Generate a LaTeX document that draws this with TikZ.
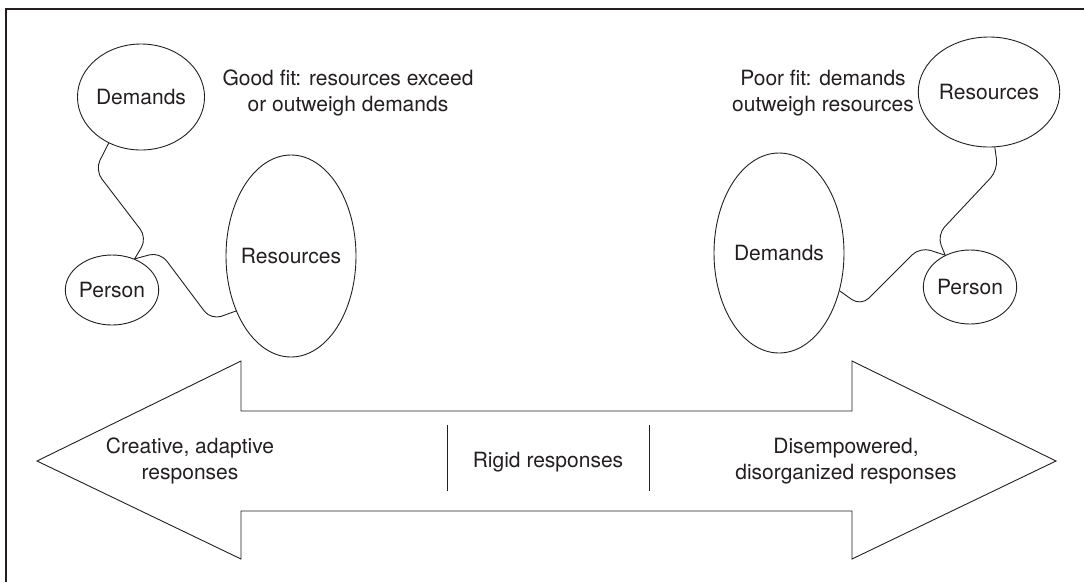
\documentclass[tikz,border=0pt]{standalone}
\usepackage{fontspec}
\setmainfont{TeX Gyre Heros}
\usetikzlibrary{shapes.geometric}
\definecolor{ink}{HTML}{231F20}
\begin{document}
\begin{tikzpicture}[x=1pt,y=-1pt,
  line width=0.9pt, draw=ink,
  every node/.style={text=ink, font=\fontsize{21}{26}\selectfont},
  blob/.style={draw=ink, ellipse, inner sep=0pt, line width=0.9pt},
  link/.style={draw=ink, rounded corners=11pt, line width=0.9pt},
  caption/.style={align=center}]
\useasboundingbox (0,0) rectangle (1084,582);
% frame (top and left edges)
\draw[line width=1.3pt] (1084,9) -- (6,9) -- (6,582);

% left group: good fit
\node[blob, minimum width=114pt, minimum height=106pt] (dL) at (141,97) {Demands};
\node[blob, minimum width=86pt, minimum height=70pt] (pL) at (112,290) {Person};
\node[blob, minimum width=130pt, minimum height=202pt] (rL) at (291,256) {};
\node at (291,256) (rLt) {Resources};
\node[caption] (gf) at (348,93) {Good fit: resources exceed\\or outweigh demands};
\draw[link] (dL.235) -- (95,170) -- (147,238) -- (pL.54);
\draw[link] (pL.54) -- (160,252) -- (211,320) -- (rL.225);

% right group: poor fit
\node[blob, minimum width=116pt, minimum height=110pt] (rR) at (989,92) {Resources};
\node[blob, minimum width=86pt, minimum height=74pt] (pR) at (970,287) {Person};
\node[blob, minimum width=130pt, minimum height=200pt] (dR) at (779,253) {};
\node at (779,253) (dRt) {Demands};
\node[caption] (pf) at (823,93) {Poor fit: demands\\outweigh resources};
\draw[link] (rR.276) -- (998,170) -- (937,235) -- (pR.128);
\draw[link] (pR.128) -- (920,247) -- (861,306) -- (dR.-32);

% double-headed arrow
\draw[line width=0.9pt] (37,461) -- (241,361) -- (241,411) -- (852,411) -- (852,361)
  -- (1056,461) -- (852,559) -- (852,511) -- (241,511) -- (241,559) -- cycle;
\coordinate (v1t) at (447,425);
\coordinate (v1b) at (447,491);
\coordinate (v2t) at (649,425);
\coordinate (v2b) at (649,491);
\draw (v1t) -- (v1b);
\draw (v2t) -- (v2b);
\node[caption] (ca) at (190,461) {Creative, adaptive\\responses};
\node[caption] (cr) at (548,462) {Rigid responses};
\node[caption] (cd) at (846,461) {Disempowered,\\disorganized responses};
\end{tikzpicture}
\end{document}
